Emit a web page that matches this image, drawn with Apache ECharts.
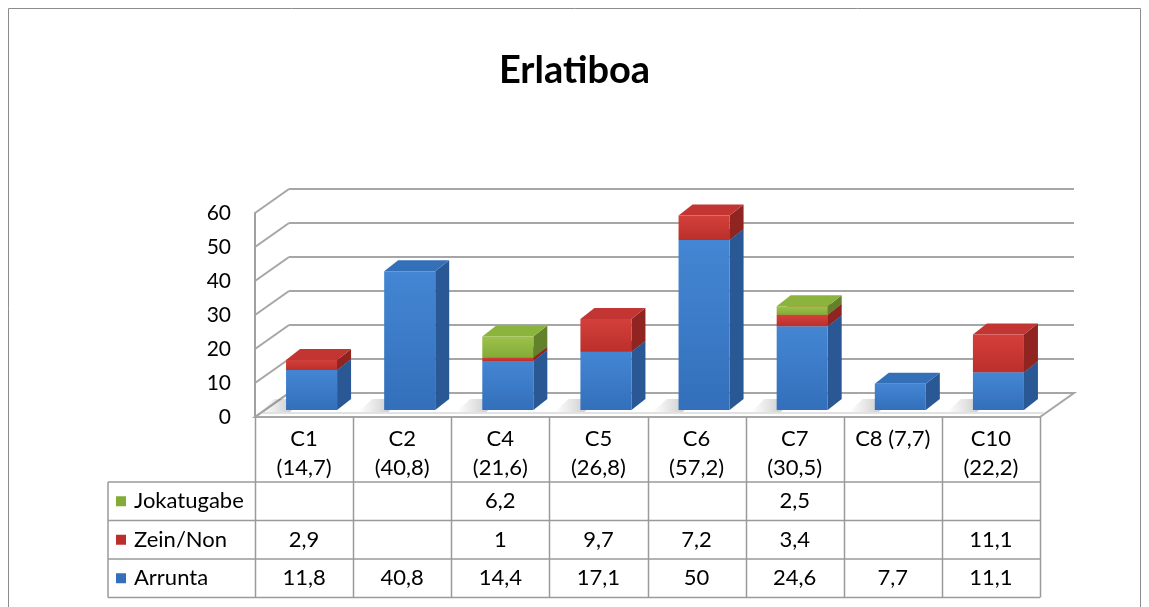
<!DOCTYPE html>
<html>
<head>
<meta charset="utf-8">
<script src="https://cdn.jsdelivr.net/npm/echarts@6/dist/echarts.min.js"></script>
<style>
html, body { margin: 0; padding: 0; background: #fff; }
#chart { width: 1149px; height: 607px; }
</style>
</head>
<body>
<div id="chart"></div>
<script>
var categories = ['C1\n(14,7)', 'C2\n(40,8)', 'C4\n(21,6)', 'C5\n(26,8)', 'C6\n(57,2)', 'C7\n(30,5)', 'C8 (7,7)', 'C10\n(22,2)'];
var arrunta = [11.8, 40.8, 14.4, 17.1, 50, 24.6, 7.7, 11.1];
var zeinNon = [2.9, null, 1, 9.7, 7.2, 3.4, null, 11.1];
var jokatugabe = [null, null, 6.2, null, null, 2.5, null, null];
var seriesNames = ['Arrunta', 'Zein/Non', 'Jokatugabe'];
var yTicks = [0, 10, 20, 30, 40, 50, 60];

var FONT = 'Lato, "Open Sans", sans-serif';
var WALL = [34, -24];      // back wall offset
var SHIFT = [7.5, -7];     // bar front plane offset
var DEPTH = [14, -11];     // bar depth
var GRID = { left: 255, right: 109, top: 213, bottom: 190 };

var faces = [
    { front: ['#4486d3', '#336fbb'], side: '#2a5894', top: '#3470b8' },
    { front: ['#d4403b', '#bb2f2b'], side: '#8f2421', top: '#c23532' },
    { front: ['#9cc24a', '#83ab37'], side: '#62812a', top: '#8ab43c' }
];

var chart = echarts.init(document.getElementById('chart'));

function stackData(rows) {
    var base = categories.map(function () { return 0; });
    return rows.map(function (row) {
        var out = [];
        row.forEach(function (v, i) {
            if (v != null) {
                out.push([i, base[i], base[i] + v]);
                base[i] += v;
            }
        });
        return out;
    });
}

function bar3d(f, withShadow) {
    return function (params, api) {
        var i = api.value(0);
        var band = api.size([1, 0])[0];
        var w = band * 0.52;
        var p0 = api.coord([i, api.value(1)]);
        var p1 = api.coord([i, api.value(2)]);
        var x0 = p0[0] - w / 2 + SHIFT[0], x1 = x0 + w;
        var yb = p0[1] + SHIFT[1], yt = p1[1] + SHIFT[1];
        var dx = DEPTH[0], dy = DEPTH[1];
        var kids = [];
        if (withShadow) {
            kids.push({ type: 'polygon',
                shape: { points: [[x0 - 26, yb + 2], [x0 + 4, yb + 2], [x0 + 4 + dx, yb + dy], [x0 - 26 + dx, yb + dy]] },
                style: { fill: new echarts.graphic.LinearGradient(0, 0, 1, 0, [
                    { offset: 0, color: 'rgba(120,120,120,0)' }, { offset: 1, color: 'rgba(90,90,90,0.45)' }]) } });
        }
        kids.push(
            { type: 'polygon', shape: { points: [[x1, yb], [x1 + dx, yb + dy], [x1 + dx, yt + dy], [x1, yt]] },
              style: { fill: f.side } },
            { type: 'polygon', shape: { points: [[x0, yt], [x1, yt], [x1 + dx, yt + dy], [x0 + dx, yt + dy]] },
              style: { fill: f.top } },
            { type: 'rect', shape: { x: x0, y: yt, width: w, height: yb - yt },
              style: { fill: new echarts.graphic.LinearGradient(0, 0, 0, 1, [
                  { offset: 0, color: f.front[0] }, { offset: 1, color: f.front[1] }]) } }
        );
        return { type: 'group', children: kids };
    };
}

var stacked = stackData([arrunta, zeinNon, jokatugabe]);

var option = {
    animation: false,
    backgroundColor: '#fff',
    title: {
        text: 'Erlatiboa', left: 'center', top: 47,
        textStyle: { fontFamily: FONT, fontSize: 38, fontWeight: 'bold', color: '#000' }
    },
    legend: {
        orient: 'vertical', left: 116, top: 482, padding: 0, itemGap: 0,
        itemWidth: 10, itemHeight: 10, icon: 'rect',
        data: ['Jokatugabe', 'Zein/Non', 'Arrunta'],
        textStyle: { fontFamily: FONT, fontSize: 22, color: '#000', lineHeight: 38.5, padding: [0, 0, 0, 3] }
    },
    grid: GRID,
    xAxis: {
        type: 'category', data: categories,
        axisTick: { show: false },
        axisLine: { show: true, lineStyle: { color: '#a0a0a0', width: 2 } },
        axisLabel: { fontFamily: FONT, fontSize: 22, color: '#000', margin: 7,
                     lineHeight: 29, verticalAlign: 'top', interval: 0 }
    },
    yAxis: {
        type: 'value', min: 0, max: 60, interval: 10,
        axisLine: { show: true, lineStyle: { color: '#a0a0a0', width: 2 } },
        axisTick: { show: false },
        splitLine: { show: false },
        axisLabel: { fontFamily: FONT, fontSize: 21, color: '#000', margin: 24 }
    },
    series: seriesNames.map(function (name, k) {
        return {
            type: 'custom', name: name, z: 5,
            itemStyle: { color: faces[k].front[1] },
            renderItem: bar3d(faces[k], k === 0),
            encode: { x: 0, y: [1, 2] },
            data: stacked[k]
        };
    })
};

chart.setOption(option);

// walls, floor and data table
function buildFrame() {
    var L = GRID.left, R = 1149 - GRID.right;
    var band = (R - L) / categories.length;
    var y0 = chart.convertToPixel({ yAxisIndex: 0 }, 0);
    var lineCol = '#a6a6a6';
    var g = [];
    g.push({ type: 'rect', z: 0, shape: { x: 8.5, y: 8.5, width: 1132, height: 640 },
             style: { fill: 'none', stroke: '#8c8c8c', lineWidth: 1 } });
    g.push({ type: 'polygon', z: 1,
             shape: { points: [[L, y0], [R, y0], [R + WALL[0], y0 + WALL[1]], [L + WALL[0], y0 + WALL[1]]] },
             style: { fill: '#fff', stroke: lineCol, lineWidth: 2 } });
    g.push({ type: 'line', z: 1, shape: { x1: L + 4, y1: y0 - 4, x2: R + 4, y2: y0 - 4 },
             style: { stroke: '#e2e2e2', lineWidth: 2 } });
    yTicks.forEach(function (v) {
        var y = chart.convertToPixel({ yAxisIndex: 0 }, v);
        g.push({ type: 'line', z: 1, shape: { x1: L + WALL[0], y1: y + WALL[1], x2: R + WALL[0], y2: y + WALL[1] },
                 style: { stroke: lineCol, lineWidth: 2 } });
        g.push({ type: 'line', z: 1, shape: { x1: L, y1: y, x2: L + WALL[0], y2: y + WALL[1] },
                 style: { stroke: lineCol, lineWidth: 2 } });
    });

    // table
    var tCol = '#9a9a9a';
    var headBottom = 482, rowH = 38.5, tLeft = 108;
    var tBottom = headBottom + rowH * 3;
    for (var k = 0; k <= categories.length; k++) {
        var x = Math.round(L + band * k) + 0.5;
        g.push({ type: 'line', z: 3, shape: { x1: x, y1: y0, x2: x, y2: tBottom },
                 style: { stroke: tCol, lineWidth: 1.5 } });
    }
    g.push({ type: 'line', z: 3, shape: { x1: tLeft, y1: headBottom, x2: tLeft, y2: tBottom },
             style: { stroke: tCol, lineWidth: 1.5 } });
    for (var r = 0; r <= 3; r++) {
        var yy = headBottom + rowH * r;
        g.push({ type: 'line', z: 3, shape: { x1: tLeft, y1: yy, x2: R, y2: yy },
                 style: { stroke: tCol, lineWidth: 1.5 } });
    }
    var rows = [jokatugabe, zeinNon, arrunta];
    rows.forEach(function (row, r) {
        row.forEach(function (v, i) {
            if (v == null) return;
            var cx = chart.convertToPixel({ xAxisIndex: 0 }, i);
            g.push({ type: 'text', z: 4, x: cx, y: headBottom + rowH * r + rowH / 2,
                     style: { text: String(v).replace('.', ','), fill: '#000', font: '22px ' + FONT,
                              align: 'center', verticalAlign: 'middle' } });
        });
    });
    return g;
}

chart.setOption({ graphic: buildFrame() });
</script>
</body>
</html>
